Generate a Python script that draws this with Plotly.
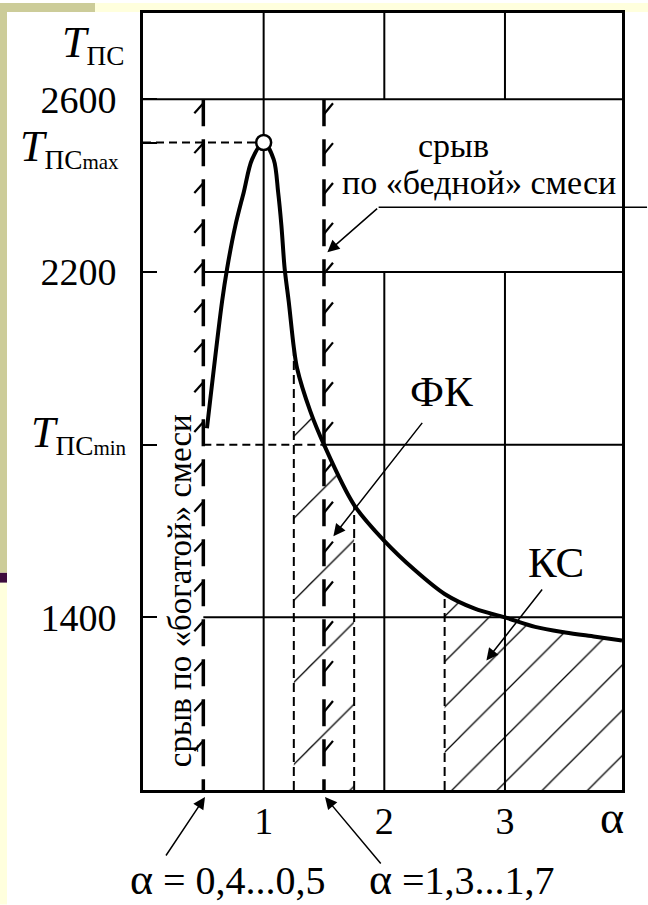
import plotly.graph_objects as go

FONT = "Liberation Serif"

# ---- data ----
alpha = [0.53, 0.655, 0.697, 0.766, 0.835, 0.904, 1.0, 1.083, 1.12, 1.147, 1.174, 1.208,
         1.25, 1.277, 1.387, 1.5, 1.75, 2.0, 2.25, 2.5, 2.75, 3.0, 3.25, 3.5, 3.75, 3.97]
temp = [1838, 2131, 2208, 2308, 2385, 2461, 2500, 2461, 2385, 2308, 2208, 2131,
        2025, 1977, 1877, 1800, 1660, 1577, 1510, 1454, 1420, 1400, 1378, 1365, 1355, 1346]

x_ticks = [1, 2, 3]
y_ticks = [1400, 1800, 2200, 2500, 2600]
y_ticktext = ["1400", "", "2200", "", "2600"]

T_MAX, T_MIN = 2500, 1800
A_RICH, A_LEAN = 0.5, 1.5          # stall limits
FK_RANGE = (1.25, 1.75)
KS_START = 2.5
X_MAX, Y_MIN, Y_MAX = 3.97, 1000, 2800

W, H = 648, 905
ML, MR, MT, MB = 143, 26, 10, 115
PW, PH = W - ML - MR, H - MT - MB


def px2paper(px, py):
    return (px - ML) / PW, (H - MB - py) / PH


def T_at(a):
    return temp[alpha.index(a)]


fig = go.Figure()


def seg(xs, ys, width=2, dash=None, color="black"):
    fig.add_trace(go.Scatter(x=xs, y=ys, mode="lines",
                             line=dict(color=color, width=width, dash=dash),
                             hoverinfo="skip", showlegend=False))


# hatched regions (under the curve)
fk = [(a, t) for a, t in zip(alpha, temp) if FK_RANGE[0] <= a <= FK_RANGE[1]]
ks = [(a, t) for a, t in zip(alpha, temp) if a >= KS_START]
for pts, size, sol in ((fk, 58, 0.022), (ks, 32, 0.04)):
    fig.add_trace(go.Scatter(
        x=[p[0] for p in pts], y=[p[1] for p in pts], mode="lines",
        line=dict(width=0, shape="spline"), fill="tozeroy",
        fillcolor="rgba(0,0,0,0)",
        fillpattern=dict(shape="/", size=size, solidity=sol,
                         fgcolor="black", bgcolor="rgba(0,0,0,0)", fillmode="replace"),
        hoverinfo="skip", showlegend=False))

# grid: horizontal
seg([0, X_MAX], [2600, 2600])
seg([A_RICH, X_MAX], [2200, 2200])
seg([A_RICH, X_MAX], [1400, 1400])
seg([A_LEAN, X_MAX], [T_MIN, T_MIN])
seg([A_RICH, A_LEAN], [T_MIN, T_MIN], 2, "8px,5px")
seg([0, 1.0], [T_MAX, T_MAX], 2.2, "8px,5px")
# grid: vertical
seg([1, 1], [Y_MIN, Y_MAX])
for a in (2, 3):
    seg([a, a], [2600, Y_MAX])
    seg([a, a], [Y_MIN, 2200])
# thin dashed region borders
for a in (FK_RANGE[0], FK_RANGE[1], KS_START):
    seg([a, a], [Y_MIN, T_at(a)], 2, "9px,5px")
# heavy dashed stall limits with hatch flags
for a in (A_RICH, A_LEAN):
    seg([a, a], [2600, Y_MIN], 3.5, "27px,13px")
step_T = 40 * (Y_MAX - Y_MIN) / PH
dx = 9 * X_MAX / PW
dy = 10 * (Y_MAX - Y_MIN) / PH
fx, fy = [], []
k = 0
while 2600 - k * step_T - 2 * dy > Y_MIN:
    t0 = 2600 - k * step_T
    # rich limit: flag on the left at top of each dash
    fx += [A_RICH, A_RICH - dx, None]
    fy += [t0 - 0.4 * dy, t0 - 1.4 * dy, None]
    # lean limit: flag on the right
    fx += [A_LEAN, A_LEAN + dx, None]
    fy += [t0 - 1.5 * dy, t0 - 0.4 * dy, None]
    k += 1
fig.add_trace(go.Scatter(x=fx, y=fy, mode="lines", line=dict(color="black", width=2.2),
                         hoverinfo="skip", showlegend=False, connectgaps=False))

# main curve
fig.add_trace(go.Scatter(x=alpha, y=temp, mode="lines",
                         line=dict(color="black", width=4, shape="spline", smoothing=0.9),
                         hoverinfo="skip", showlegend=False))
# peak marker
fig.add_trace(go.Scatter(x=[alpha[temp.index(max(temp))]], y=[max(temp)], mode="markers",
                         marker=dict(size=15, color="white", line=dict(color="black", width=2.5)),
                         hoverinfo="skip", showlegend=False))

ann = []


def text(x, y, s, size, **kw):
    d = dict(x=x, y=y, xref="x", yref="y", text=s, showarrow=False,
             font=dict(family=FONT, size=size, color="black"))
    d.update(kw)
    ann.append(d)


def ptext(px, py, s, size, **kw):
    x, y = px2paper(px, py)
    d = dict(x=x, y=y, xref="paper", yref="paper", text=s, showarrow=False,
             xanchor="center", yanchor="middle",
             font=dict(family=FONT, size=size, color="black"))
    d.update(kw)
    ann.append(d)


def arrow(x0, y0, x1, y1, head=2):
    ann.append(dict(x=x1, y=y1, ax=x0, ay=y0, xref="x", yref="y", axref="x", ayref="y",
                    text="", showarrow=True, arrowhead=head, arrowsize=1.6,
                    arrowwidth=1.5, arrowcolor="black", standoff=0, startstandoff=0))


def parrow(px0, py0, px1, py1):
    x, y = px2paper(px1, py1)
    ann.append(dict(x=x, y=y, xref="paper", yref="paper", ax=px0 - px1, ay=py0 - py1,
                    xanchor="center", yanchor="middle",
                    text="", showarrow=True, arrowhead=2, arrowsize=1.6,
                    arrowwidth=1.5, arrowcolor="black", standoff=0, startstandoff=0))


text(2.574, 2493, "срыв", 34)
text(2.784, 2408, "по «бедной» смеси", 34)
text(2.473, 1923, "ФК", 43)
text(3.426, 1526, "КС", 43)
text(0.303, 1462, "срыв по «богатой» смеси", 33, textangle=-90)
ptext(612, 818, "<span style='font-size:46px'>α</span>", 40)
ptext(228, 880, "<span style='font-size:44px'>α</span> = 0,4...0,5", 40)
ptext(462, 880, "<span style='font-size:44px'>α</span> =1,3...1,7", 40)

parrow(165, 857, 205, 797)
parrow(382, 865, 325, 797)
arrow(2.324, 1854, 1.578, 1588)
arrow(3.318, 1468, 2.846, 1300)
arrow(4.19, 2350, 1.953, 2350, head=0)
arrow(1.953, 2350, 1.528, 2246)


# y-axis symbol labels
def tlabel(y, sub, xr, yshift=0):
    s = ("<span style='font-size:44px'><i>T</i></span><sub>ПС"
         + (f"<span style='font-size:21px'>{sub}</span>" if sub else "") + "</sub>")
    ann.append(dict(x=px2paper(xr, 0)[0], xref="paper", y=y, yref="y", text=s,
                    showarrow=False, xanchor="right", yanchor="middle", yshift=yshift,
                    font=dict(family=FONT, size=39, color="black")))


tlabel(2726, "", 126)
tlabel(T_MAX, "max", 121, -6)
tlabel(T_MIN, "min", 129, 10)

# background decorations of the slide
shapes = []


def rect(x0, y0, x1, y1, color):
    a0, b0 = px2paper(x0, y0)
    a1, b1 = px2paper(x1, y1)
    shapes.append(dict(type="rect", xref="paper", yref="paper", x0=a0, y0=b0, x1=a1, y1=b1,
                       fillcolor=color, line=dict(width=0), layer="below"))


rect(0, 0, 95, 9, "#cccc99")
rect(95, 0, W, 9, "#ffffdd")
rect(0, 9, 7, 572, "#cccc99")
rect(0, 572, 7, 582, "#3d0b3d")
rect(0, 582, 7, H, "#ffffdd")

fig.update_layout(
    width=W, height=H, margin=dict(l=ML, r=MR, t=MT, b=MB),
    paper_bgcolor="white", plot_bgcolor="white",
    annotations=ann, shapes=shapes, showlegend=False,
    xaxis=dict(range=[0, X_MAX], tickvals=x_ticks, ticktext=[str(v) for v in x_ticks],
               showgrid=False, zeroline=False, showline=True, mirror=True,
               linecolor="black", linewidth=3, ticks="",
               tickfont=dict(family=FONT, size=38, color="black"), ticklabelstandoff=-5),
    yaxis=dict(range=[Y_MIN, Y_MAX], tickvals=y_ticks, ticktext=y_ticktext,
               showgrid=False, zeroline=False, showline=True, mirror=True,
               linecolor="black", linewidth=3, ticks="inside", ticklen=14, tickwidth=2,
               tickcolor="black",
               tickfont=dict(family=FONT, size=38, color="black"), ticklabelstandoff=16),
)

fig.write_html("out.html")
